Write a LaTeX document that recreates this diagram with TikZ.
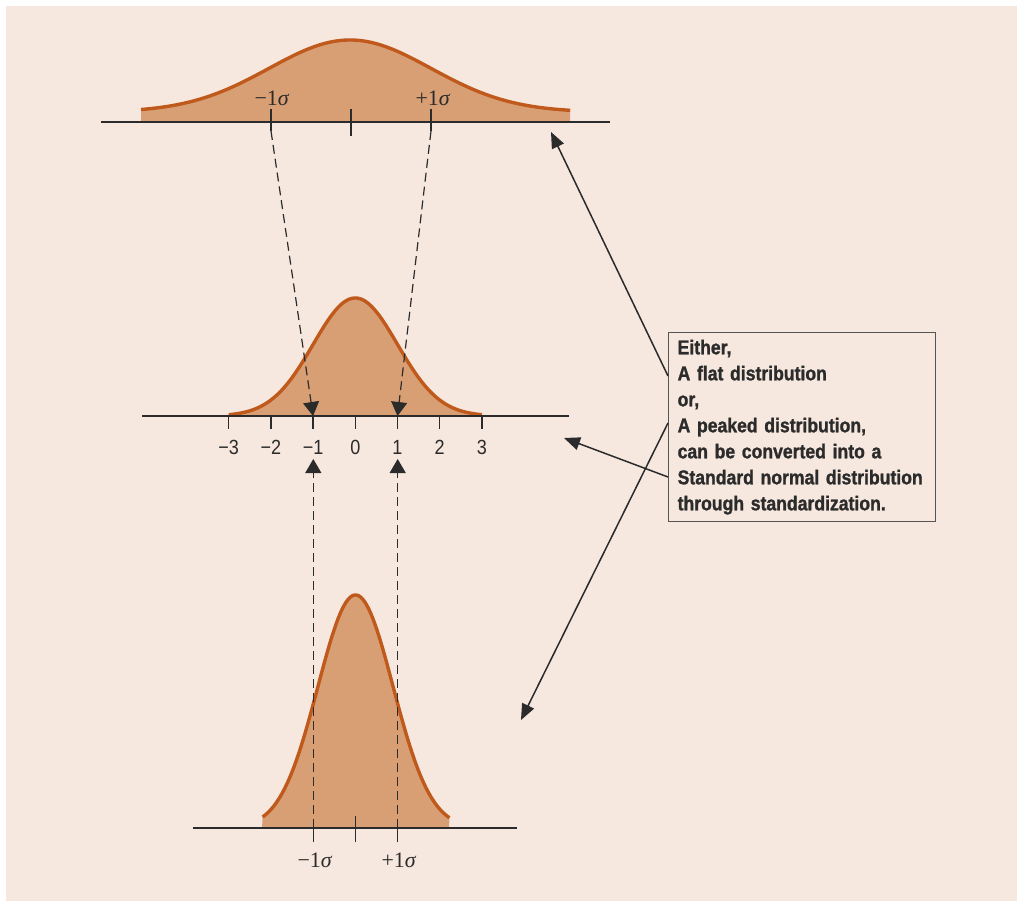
\documentclass[tikz,border=0pt]{standalone}
\usepackage{fontspec}
\usetikzlibrary{arrows.meta}
\newfontfamily\boxfont[FakeStretch=0.88,FakeBold=1.2]{Liberation Sans}
\newfontfamily\numfont[FakeStretch=0.88]{Liberation Sans}
\newfontfamily\sigfont{Liberation Serif}
\definecolor{bg}{HTML}{F6E8DF}
\definecolor{fillc}{HTML}{D99F74}
\definecolor{curvec}{HTML}{C05A1C}
\definecolor{linec}{HTML}{2B2B2B}
\definecolor{boxline}{HTML}{555555}
\tikzset{
  axisline/.style={draw=linec, line width=1.5pt},
  tickline/.style={draw=linec, line width=1.3pt},
  curve/.style={draw=curvec, line width=3.4pt, line join=round},
  under/.style={fill=fillc},
  dashedarrow/.style={draw=linec, line width=1.2pt, dash pattern=on 9pt off 5pt, -{Triangle[length=14pt,width=16pt]}},
  boxarrow/.style={draw=linec, line width=1.5pt, -{Triangle[length=16pt,width=13pt]}},
  siglabel/.style={font=\sigfont\fontsize{22}{24}\selectfont, text=linec, inner sep=0pt},
  numlabel/.style={font=\numfont\fontsize{20.5}{22}\selectfont, text=linec, inner sep=0pt, anchor=base},
  notebox/.style={draw=boxline, line width=1.3pt, fill=bg, anchor=north west, minimum width=267pt, minimum height=189pt, text width=249pt, align=left, inner xsep=9pt, text=linec, font=\boxfont\bfseries\fontsize{20}{26}\selectfont}
}
\newcommand{\sg}{\textit{σ}}
\begin{document}
\begin{tikzpicture}[x=1pt,y=-1pt]
\useasboundingbox (0,0) rectangle (1017,901);
\fill[bg] (6,6) rectangle (1017,901);

% ---------- top (flat) distribution ----------
\fill[under] (141,122) -- plot[domain=-2.58:2.72,samples=120] ({350+81*\x},{112.1-72.1*exp(-\x*\x/2)}) -- (570,122) -- cycle;
\draw[curve] plot[domain=-2.58:2.72,samples=120] ({350+81*\x},{112.1-72.1*exp(-\x*\x/2)});
\draw[axisline] (101,122) -- (610,122);
\coordinate (tm1) at (271,131);
\coordinate (tp1) at (431,131);
\draw[tickline] (271,109) -- (tm1);
\draw[tickline] (351,109) -- (351,136);
\draw[tickline] (431,109) -- (tp1);
\node[siglabel] (tlm) at (272,98) {−1\sg};
\node[siglabel] (tlp) at (433,98) {+1\sg};

% ---------- middle (standard normal) ----------
\fill[under] (228.7,416) -- plot[domain=-3:3,samples=120] ({355.3+42.2*\x},{416-118*exp(-\x*\x/2)}) -- (481.9,416) -- cycle;
\draw[curve] plot[domain=-3:3,samples=120] ({355.3+42.2*\x},{416-118*exp(-\x*\x/2)});
\draw[axisline] (142,416) -- (569,416);
\foreach \k/\t in {-3/{−3},-2/{−2},-1/{−1},0/0,1/1,2/2,3/3}{
  \draw[tickline] ({355.3+42.2*\k},416) -- ({355.3+42.2*\k},429);
  \node[numlabel] (n\k) at ({355.3+42.2*\k},454) {\t};
}
\coordinate (mm1) at (313.1,416);
\coordinate (mp1) at (397.5,416);
\draw[dashedarrow] (tm1) -- (mm1);
\draw[dashedarrow] (tp1) -- (mp1);

% ---------- bottom (peaked) distribution ----------
\fill[under] (262,828) -- plot[domain=-2.47:2.5,samples=120] ({355.5+37.6*\x},{828-233*exp(-\x*\x/2)}) -- (449,828) -- cycle;
\draw[curve] plot[domain=-2.47:2.5,samples=120] ({355.5+37.6*\x},{828-233*exp(-\x*\x/2)});
\draw[axisline] (193,828) -- (517,828);
\draw[tickline] (355.5,816) -- (355.5,842);
\coordinate (bm1) at (313.3,842);
\coordinate (bp1) at (397.7,842);
\coordinate (um1) at (313.3,459);
\coordinate (up1) at (397.7,459);
\draw[tickline] (313.3,820) -- (bm1);
\draw[tickline] (397.7,820) -- (bp1);
\draw[dashedarrow] (bm1) -- (um1);
\draw[dashedarrow] (bp1) -- (up1);
\node[siglabel] (blm) at (315,860) {−1\sg};
\node[siglabel] (blp) at (399,860) {+1\sg};

% ---------- note box ----------
\node[notebox] (box) at (668,332) {Either,\\A flat distribution\\or,\\A peaked distribution,\\can be converted into a\\Standard normal distribution\\through standardization.};
\coordinate (s1) at (box.west |- 0,376);
\coordinate (s2) at (box.west |- 0,423);
\coordinate (s3) at (box.west |- 0,477);
\coordinate (e1) at (551,132);
\coordinate (e2) at (521,720);
\coordinate (e3) at (564,438);
\draw[boxarrow] (s1) -- (e1);
\draw[boxarrow] (s2) -- (e2);
\draw[boxarrow] (s3) -- (e3);
\end{tikzpicture}
\end{document}
